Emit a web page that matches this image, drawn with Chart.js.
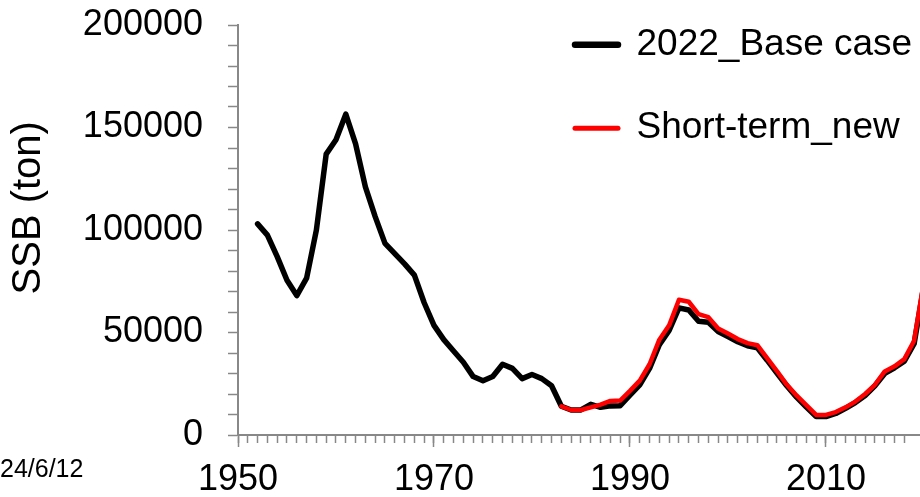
<!DOCTYPE html>
<html>
<head>
<meta charset="utf-8">
<script src="https://cdn.jsdelivr.net/npm/chart.js@4.4.1/dist/chart.umd.min.js"></script>
<style>
  html, body { margin: 0; padding: 0; background: #fff; overflow: hidden; }
  #wrap { position: relative; width: 920px; height: 497px; }
  #stamp { position: absolute; left: 0; top: 456px; font: 25px/1 'Liberation Sans', Arial, sans-serif; color: #000; white-space: nowrap; }
</style>
</head>
<body>
<div id="wrap">
  <canvas id="c" width="920" height="497"></canvas>
  <div id="stamp">24/6/12</div>
</div>
<script>
// ---- data ----
const baseYears = [1952,1953,1954,1955,1956,1957,1958,1959,1960,1961,1962,1963,1964,1965,1966,1967,1968,1969,1970,1971,1972,1973,1974,1975,1976,1977,1978,1979,1980,1981,1982,1983,1984,1985,1986,1987,1988,1989,1990,1991,1992,1993,1994,1995,1996,1997,1998,1999,2000,2001,2002,2003,2004,2005,2006,2007,2008,2009,2010,2011,2012,2013,2014,2015,2016,2017,2018,2019,2020];
const baseSSB = [103000,97500,87000,75500,68000,76500,100000,137000,144000,156500,142000,121000,106500,93500,88500,83500,78000,64500,53500,46500,41000,35500,28500,26500,28500,34500,32500,27500,29500,27500,24000,14000,12200,12200,15000,13500,14200,14300,19500,24500,32500,44000,51000,62000,61000,55500,55000,50500,48000,45500,43500,42500,36500,30200,24000,18500,13600,9000,9000,10500,13000,15800,19300,24000,30000,32800,36000,44500,73000];
const shortYears = [1983,1984,1985,1986,1987,1988,1989,1990,1991,1992,1993,1994,1995,1996,1997,1998,1999,2000,2001,2002,2003,2004,2005,2006,2007,2008,2009,2010,2011,2012,2013,2014,2015,2016,2017,2018,2019,2020];
const shortSSB = [14000,12200,12200,13500,14800,16600,16800,21500,26500,34500,46500,53500,66000,65000,59000,57500,52000,49500,46800,44800,43800,37500,31200,24600,19300,14600,9800,9800,11200,13500,16300,20000,24500,31000,33500,37000,46000,75000];
const seriesNames = ['2022_Base case', 'Short-term_new'];
const xTickLabels = [1950, 1970, 1990, 2010];
const yLabelStep = 50000;
const yAxisTitle = 'SSB (ton)';

const FONT = "'Liberation Sans', Arial, sans-serif";
const GRAY = '#888888';

const toPoints = (xs, ys) => xs.map((x, i) => ({ x: x, y: ys[i] }));

const legendPlacer = {
  id: 'legendPlacer',
  afterLayout(chart) {
    const lg = chart.legend;
    if (!lg) return;
    const pad = lg.options.labels.padding;
    lg.left = 575 - pad;
    lg.top = 26.2 - pad;
  }
};

new Chart(document.getElementById('c'), {
  type: 'line',
  data: {
    datasets: [
      {
        label: seriesNames[0],
        data: toPoints(baseYears, baseSSB),
        borderColor: '#000000',
        backgroundColor: '#000000',
        borderWidth: 5.5,
        pointRadius: 0,
        tension: 0,
        borderJoinStyle: 'round',
        borderCapStyle: 'round',
        order: 1
      },
      {
        label: seriesNames[1],
        data: toPoints(shortYears, shortSSB),
        borderColor: '#ff0000',
        backgroundColor: '#ff0000',
        borderWidth: 4.5,
        pointRadius: 0,
        tension: 0,
        borderJoinStyle: 'round',
        borderCapStyle: 'round',
        order: 0
      }
    ]
  },
  options: {
    responsive: false,
    devicePixelRatio: 1,
    animation: false,
    layout: { padding: { top: 25, right: 0, bottom: 0, left: 0 } },
    plugins: {
      tooltip: { enabled: false },
      legend: {
        position: 'chartArea',
        align: 'start',
        labels: {
          color: '#000',
          font: { family: FONT, size: 37 },
          padding: 46.5,
          usePointStyle: true,
          pointStyleWidth: 43,
          sort: (a, b) => a.datasetIndex - b.datasetIndex,
          generateLabels: (chart) => {
            const items = Chart.defaults.plugins.legend.labels.generateLabels(chart);
            items.forEach(it => {
              const ds = chart.data.datasets[it.datasetIndex];
              it.pointStyle = 'line';
              it.strokeStyle = ds.borderColor;
              it.fillStyle = ds.borderColor;
              it.lineWidth = it.datasetIndex === 0 ? 6.5 : 5;
              it.lineCap = 'round';
            });
            return items;
          }
        }
      }
    },
    scales: {
      x: {
        type: 'linear',
        position: 'bottom',
        weight: 1,
        min: 1950,
        max: 2019.6,
        afterBuildTicks: (s) => { s.ticks = xTickLabels.map(v => ({ value: v })); },
        afterFit: (s) => { s.height = 62; s.paddingRight = 0; },
        grid: { drawOnChartArea: false, drawTicks: true, tickLength: 12, tickColor: GRAY, tickWidth: 1.5 },
        border: { display: true, color: GRAY, width: 2 },
        ticks: {
          autoSkip: false,
          maxRotation: 0,
          padding: 11,
          color: '#000',
          font: { family: FONT, size: 36 },
          callback: (v) => String(v)
        }
      },
      xMinor: {
        type: 'linear',
        position: 'bottom',
        weight: 0,
        min: 1950,
        max: 2019.6,
        afterBuildTicks: (s) => { s.ticks = s.ticks.filter(t => Number.isInteger(t.value)); },
        afterFit: (s) => { s.height = 0; s.paddingRight = 0; },
        grid: { drawOnChartArea: false, drawTicks: true, tickLength: 8, tickColor: GRAY, tickWidth: 1.5 },
        border: { display: false },
        ticks: { display: false, autoSkip: false, stepSize: 1 }
      },
      y: {
        type: 'linear',
        position: 'left',
        min: 0,
        max: 200000,
        afterFit: (s) => { s.width = 238; s.paddingTop = 0; s.paddingBottom = 0; },
        grid: { drawOnChartArea: false, drawTicks: true, tickLength: 10, tickColor: GRAY, tickWidth: 1.5 },
        border: { display: true, color: GRAY, width: 2 },
        title: {
          display: true,
          text: '    ' + yAxisTitle,
          color: '#000',
          font: { family: FONT, size: 40 },
          padding: { top: 5, bottom: 0 }
        },
        ticks: {
          stepSize: 10000,
          autoSkip: false,
          padding: 25,
          color: '#000',
          font: { family: FONT, size: 36 },
          callback: (v) => (v % yLabelStep === 0 ? String(v) : '')
        }
      }
    }
  },
  plugins: [legendPlacer]
});
</script>
</body>
</html>
